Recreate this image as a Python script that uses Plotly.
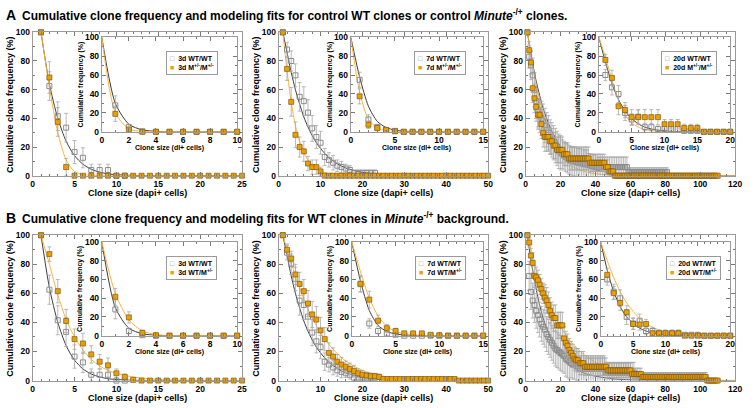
import plotly.graph_objects as go

W, H = 755, 408
FONT = "Liberation Sans, Arial, Helvetica, sans-serif"
WT_MARK = "#8c8c8c"
ERR = "#a8a8a8"
M_FILL = "#ee9f00"
M_EDGE = "#7d5a12"
FIT_WT = "#3d3d3d"
FIT_M = "#fbb43a"
FRAME = "#9a9a9a"
TICK = "#7a7a7a"

# ---------------- data ----------------
# A1: 3d, main (dapi+ cells)
A1_WT_X = [1, 2, 3, 4, 5, 6, 7, 8, 9, 10, 11]
A1_WT = [100, 62.5, 41.5, 33.5, 16.5, 12.5, 4, 4, 4, 0, 0]
A1_WT_ERR = [0, 10, 10, 10, 8, 7, 4, 4, 4, 0, 0]
A1_M_X = list(range(1, 26))
A1_M = [100, 68.5, 37.5, 6, 0, 0, 0, 0, 0, 0, 0, 0, 0, 0, 0, 0, 0, 0, 0, 0, 0, 0, 0, 0, 0]
A1_M_ERR = [0, 11, 10, 6, 0, 0, 0, 0, 0, 0, 0, 0, 0, 0, 0, 0, 0, 0, 0, 0, 0, 0, 0, 0, 0]
A1_FIT_X = [1, 2, 3, 4, 5, 6, 7, 8, 9, 10, 12, 15, 20, 25]
A1_FIT_WT = [100, 64, 40, 24, 14, 8, 4.5, 2.5, 1.3, 0.7, 0.2, 0, 0, 0]
A1_FIT_M = [100, 62, 30, 11, 3, 0.8, 0.2, 0, 0, 0, 0, 0, 0, 0]

# A1 inset (dl+ cells)
I1_X = [1, 2, 3, 4, 5, 6, 7, 8, 9, 10]
I1_WT = [28, 5, 0.5, 0, 0, 0, 0, 0, 0, 0]
I1_WT_ERR = [10, 3, 0.5, 0, 0, 0, 0, 0, 0, 0]
I1_M = [19, 2.5, 0, 0, 0, 0, 0, 0, 0, 0]
I1_M_ERR = [8, 2, 0, 0, 0, 0, 0, 0, 0, 0]
I1_FIT_X = [0, 1, 2, 3, 4, 5, 6, 7, 8, 9, 10]
I1_FIT_WT = [100, 30, 8, 2, 0.5, 0, 0, 0, 0, 0, 0]
I1_FIT_M = [100, 20, 3, 0.5, 0, 0, 0, 0, 0, 0, 0]

# A2: 7d, main
A2_WT_X = list(range(1, 24))
A2_WT = [100, 88, 80, 70, 55, 52, 44, 33, 27, 23, 13, 11, 9, 7, 6, 5, 4, 2, 2, 2, 2, 2, 2]
A2_WT_ERR = [0, 5, 7, 8, 10, 10, 9, 9, 8, 8, 6, 5, 5, 4, 4, 3, 3, 2, 2, 2, 2, 2, 2]
A2_M_X = list(range(1, 51))
A2_M = [100, 74.5, 51.5, 28.5, 20, 17, 8.5, 6, 6, 3,
        0, 0, 0, 0, 0, 0, 0, 0, 0, 0, 0, 0, 0, 0, 0, 0, 0, 0, 0, 0,
        0, 0, 0, 0, 0, 0, 0, 0, 0, 0, 0, 0, 0, 0, 0, 0, 0, 0, 0, 0]
A2_M_ERR = [0, 8, 10, 9, 7, 7, 5, 5, 5, 3,
            0, 0, 0, 0, 0, 0, 0, 0, 0, 0, 0, 0, 0, 0, 0, 0, 0, 0, 0, 0,
            0, 0, 0, 0, 0, 0, 0, 0, 0, 0, 0, 0, 0, 0, 0, 0, 0, 0, 0, 0]
A2_FIT_X = [1, 2, 3, 4, 5, 6, 7, 8, 9, 10, 12, 14, 16, 18, 20, 25, 30, 40, 50]
A2_FIT_WT = [100, 86, 72, 60, 50, 41, 34, 28, 23, 19, 12.5, 8.3, 5.4, 3.6, 2.4, 0.8, 0.3, 0, 0]
A2_FIT_M = [100, 73, 51, 35, 24, 16, 11, 7.3, 4.8, 3.2, 1.4, 0.6, 0.3, 0.1, 0, 0, 0, 0, 0]

# A2 inset
I2_X = list(range(1, 16))
I2_WT = [55, 13, 5, 2, 1, 0, 0, 0, 0, 0, 0, 0, 0, 0, 0]
I2_WT_ERR = [8, 5, 3, 2, 1, 0, 0, 0, 0, 0, 0, 0, 0, 0, 0]
I2_M = [37.5, 7.5, 4, 2, 0.5, 0, 0, 0, 0, 0, 0, 0, 0, 0, 0]
I2_M_ERR = [8, 4, 3, 2, 0.5, 0, 0, 0, 0, 0, 0, 0, 0, 0, 0]
I2_FIT_X = list(range(0, 16))
I2_FIT_WT = [100, 58, 27, 11, 4.5, 1.8, 0.7, 0.3, 0.1, 0, 0, 0, 0, 0, 0, 0]
I2_FIT_M = [100, 42, 13, 4, 1.2, 0.3, 0, 0, 0, 0, 0, 0, 0, 0, 0, 0]

# A3: 20d, main
A3_WT_X = list(range(1, 82))
A3_WT = [100, 83, 77, 70, 60, 52, 46, 42, 40, 38, 35, 32, 30, 27, 25, 23, 21, 19, 17, 16,
         15, 14, 13, 12, 11, 10.5, 10, 10, 9.5, 9, 9, 8.5, 8, 8, 8, 7.5, 7, 7, 6.5, 6.5,
         6, 6, 6, 6, 6, 6, 6, 6, 6, 6, 6, 6, 6, 6, 6, 6, 6, 6,
         2.5, 2.5, 2.5, 2.5, 2.5, 2.5, 2.5, 2.5, 2.5, 2.5, 2.5, 2.5,
         2.5, 2.5, 2.5, 2.5, 2.5, 2.5, 2.5, 2.5, 2.5, 2.5, 2.5]
A3_WT_ERR = [0, 8, 10, 12, 12, 12, 12, 12, 12, 12, 12, 12, 12, 12, 12, 12, 12, 12, 12, 12,
             10, 10, 10, 10, 10, 10, 10, 10, 10, 10, 10, 10, 10, 10, 10, 8, 8, 8, 8, 8,
             7, 7, 7, 7, 7, 7, 7, 7, 7, 7, 7, 7, 7, 7, 7, 7, 7, 7,
             3, 3, 3, 3, 3, 3, 3, 3, 3, 3, 3, 3,
             3, 3, 3, 3, 3, 3, 3, 3, 3, 3, 3]
A3_M_X = list(range(1, 111))
A3_M = [100, 87.5, 79, 61, 54, 48, 42.5, 42.5, 36, 30, 27, 27, 27, 24, 24, 21, 21, 18, 18, 18,
        18, 15, 15, 15, 12, 12, 12, 12, 12, 12, 12, 12, 12, 12, 12, 12,
        9, 9, 9, 9, 9, 9, 9, 9, 9, 6, 6, 3, 3, 3,
        0, 0, 0, 0, 0, 0, 0, 0, 0, 0, 0, 0, 0, 0, 0, 0, 0, 0, 0, 0,
        0, 0, 0, 0, 0, 0, 0, 0, 0, 0, 0, 0, 0, 0, 0, 0, 0, 0, 0, 0,
        0, 0, 0, 0, 0, 0, 0, 0, 0, 0, 0, 0, 0, 0, 0, 0, 0, 0, 0, 0]
A3_M_ERR = [0, 6, 8, 10, 10, 10, 10, 10, 10, 10, 10, 10, 10, 9, 9, 9, 9, 9, 9, 9,
            9, 8, 8, 8, 8, 8, 8, 8, 8, 8, 8, 8, 8, 8, 8, 8,
            6, 6, 6, 6, 6, 6, 6, 6, 6, 5, 5, 3, 3, 3,
            0, 0, 0, 0, 0, 0, 0, 0, 0, 0, 0, 0, 0, 0, 0, 0, 0, 0, 0, 0,
            0, 0, 0, 0, 0, 0, 0, 0, 0, 0, 0, 0, 0, 0, 0, 0, 0, 0, 0, 0,
            0, 0, 0, 0, 0, 0, 0, 0, 0, 0, 0, 0, 0, 0, 0, 0, 0, 0, 0, 0]
A3_FIT_X = [1, 2, 3, 4, 5, 6, 8, 10, 12, 15, 20, 25, 30, 35, 40, 50, 60, 70, 80, 100, 120]
A3_FIT_WT = [100, 92, 85, 78, 72, 66, 56, 47, 40, 31, 20.5, 13.5, 9, 6, 4, 1.8, 0.8, 0.4, 0.2, 0, 0]
A3_FIT_M = [100, 92, 84, 77, 70, 64, 53, 43, 35, 25, 14, 8, 4.5, 2.5, 1.4, 0.4, 0.1, 0, 0, 0, 0]

# A3 inset
I3_X = list(range(1, 21))
I3_WT = [60, 47, 40, 20, 13, 16, 5, 5, 3, 3, 3, 3, 1, 1, 1, 0, 0, 0, 0, 0]
I3_WT_ERR = [6, 8, 9, 8, 6, 7, 4, 4, 3, 3, 3, 3, 1, 1, 1, 0, 0, 0, 0, 0]
I3_M = [76, 57, 27, 23, 15.5, 15.5, 15.5, 15.5, 15.5, 8, 8, 8, 4, 4, 4, 0, 0, 0, 0, 0]
I3_M_ERR = [6, 8, 9, 8, 8, 8, 8, 8, 8, 5, 5, 5, 4, 4, 4, 0, 0, 0, 0, 0]
I3_FIT_X = list(range(0, 21))
I3_FIT_WT = [100, 74, 51, 34, 22, 14, 8.5, 5, 3, 1.8, 1, 0.5, 0.3, 0.15, 0.1, 0, 0, 0, 0, 0, 0]
I3_FIT_M = [100, 79, 55, 33, 18, 9.5, 5, 2.5, 1.2, 0.6, 0.3, 0.1, 0, 0, 0, 0, 0, 0, 0, 0, 0]

# B1: 3d, WT/M+/- (WT/WT shared with A1)
B1_M = [100, 87, 61.5, 41, 28.5, 25.5, 18, 13, 10.5, 5, 2.5, 0.5, 0,
        0, 0, 0, 0, 0, 0, 0, 0, 0, 0, 0, 0]
B1_M_ERR = [0, 5, 8, 8, 7, 7, 6, 5, 5, 3, 2, 0.5, 0,
            0, 0, 0, 0, 0, 0, 0, 0, 0, 0, 0, 0]
B1_FIT_M = [100, 80, 59, 42, 30, 21, 14.5, 10, 7, 5, 2.5, 0.8, 0.1, 0]
J1_M = [41.5, 19.5, 3, 0.5, 0, 0, 0, 0, 0, 0]
J1_M_ERR = [9, 6, 3, 0.5, 0, 0, 0, 0, 0, 0]
J1_FIT_M = [100, 45, 17, 5, 1.2, 0.2, 0, 0, 0, 0, 0]

# B2: 7d
B2_M = [100, 90, 84, 73, 66.5, 61.5, 53, 45.5, 42, 34.5, 28.5, 19, 16.5, 13, 11, 9.5, 8, 6.5, 5, 4,
        3.5, 3, 3, 2.5, 1, 1, 1, 1, 1, 1, 1, 1, 1, 1, 1, 1, 1, 1, 1, 1,
        1, 1, 0, 0, 0, 0, 0, 0, 0, 0]
B2_M_ERR = [0, 4, 5, 7, 8, 8, 9, 9, 9, 9, 8, 7, 6, 5, 5, 4, 4, 4, 3, 3,
            2, 2, 2, 2, 1.5, 1.5, 1.5, 1.5, 1.5, 1.5, 1.5, 1.5, 1.5, 1.5, 1.5, 1.5, 1.5, 1.5, 1.5, 1.5,
            1.5, 1.5, 0, 0, 0, 0, 0, 0, 0, 0]
B2_FIT_M = [100, 90, 81, 72, 64, 56, 49, 43, 38, 33, 25, 18.5, 13.5, 9.8, 7, 3, 1.3, 0.2, 0]
J2_M = [55.5, 38.5, 16, 8, 5, 2.5, 2.5, 2.5, 1, 0.5, 0, 0, 0, 0, 0]
J2_M_ERR = [9, 9, 6, 4, 3, 2, 2, 2, 1, 0.5, 0, 0, 0, 0, 0]
J2_FIT_M = [100, 68, 40, 21, 10, 4.5, 2, 0.8, 0.3, 0.1, 0, 0, 0, 0, 0, 0]

# B3: 20d
B3_WT_X = list(range(1, 104))
B3_WT = [100, 72, 61, 55, 52, 48, 45, 42, 39, 37, 35, 32, 30, 28, 26, 24, 22, 21, 20, 19,
         18, 17, 15, 14, 13, 12, 11, 11, 10, 10,
         8, 8, 8, 8, 8, 8, 8, 8, 8, 8, 8, 8, 8, 8, 8,
         5.5, 5.5, 5.5, 5.5, 5.5, 5.5, 5.5, 5.5, 5.5, 5.5, 5.5, 5.5, 5.5, 5.5, 5.5, 5.5, 5.5,
         2.5, 2.5, 2.5, 2.5, 2.5, 2.5, 2.5, 2.5, 2.5, 2.5, 2.5, 2.5, 2.5, 2.5, 2.5, 2.5, 2.5, 2.5, 2.5, 2.5,
         2.5, 2.5, 2.5, 2.5, 2.5, 2.5, 2.5, 2.5, 2.5, 2.5, 2.5, 2.5, 2.5, 2.5, 2.5, 2.5, 2.5, 2.5, 2.5, 2.5,
         2.5]
B3_WT_ERR = [0, 10, 12, 12, 12, 12, 12, 12, 12, 12, 12, 12, 12, 12, 12, 12, 12, 12, 12, 12,
             12, 12, 12, 12, 12, 10, 10, 10, 10, 10,
             9, 9, 9, 9, 9, 9, 9, 9, 9, 9, 9, 9, 9, 9, 9,
             7, 7, 7, 7, 7, 7, 7, 7, 7, 7, 7, 7, 7, 7, 7, 7, 7,
             3, 3, 3, 3, 3, 3, 3, 3, 3, 3, 3, 3, 3, 3, 3, 3, 3, 3, 3, 3,
             3, 3, 3, 3, 3, 3, 3, 3, 3, 3, 3, 3, 3, 3, 3, 3, 3, 3, 3, 3,
             3]
B3_M = [100, 95, 86, 81, 72, 71, 69, 66, 63, 60, 57, 55, 52, 48, 45, 43, 43, 38, 38, 38,
        38, 29, 26, 24, 21, 19, 17, 15, 14, 14, 12, 12, 12,
        9.5, 9.5, 9.5, 9.5, 9.5, 9.5, 9.5, 9.5, 9.5, 9.5, 9.5, 9.5, 9.5,
        7, 7, 7, 7, 7, 7, 7, 7, 7, 7, 7, 7, 7, 7,
        4.5, 4.5, 4.5, 4.5, 4.5, 4.5,
        2.5, 2.5, 2.5, 2.5, 2.5, 2.5, 2.5, 2.5, 2.5, 2.5, 2.5, 2.5, 2.5, 2.5, 2.5, 2.5, 2.5, 2.5, 2.5, 2.5,
        2.5, 2.5, 2.5, 2.5, 2.5, 2.5, 2.5, 2.5, 2.5, 2.5, 2.5, 2.5, 2.5, 2.5, 2.5, 2.5, 2.5,
        0, 0, 0, 0, 0, 0, 0]
B3_M_ERR = [0, 3, 5, 7, 7, 7, 7, 7, 7, 7, 9, 9, 9, 9, 9, 9, 9, 9, 9, 9,
            9, 8, 8, 8, 8, 8, 8, 8, 8, 8, 8, 8, 8,
            6, 6, 6, 6, 6, 6, 6, 6, 6, 6, 6, 6, 6,
            5, 5, 5, 5, 5, 5, 5, 5, 5, 5, 5, 5, 5, 5,
            4, 4, 4, 4, 4, 4,
            3, 3, 3, 3, 3, 3, 3, 3, 3, 3, 3, 3, 3, 3, 3, 3, 3, 3, 3, 3,
            3, 3, 3, 3, 3, 3, 3, 3, 3, 3, 3, 3, 3, 3, 3, 3, 3,
            0, 0, 0, 0, 0, 0, 0]
B3_FIT_WT = [100, 91, 83, 76, 69, 63, 52, 43, 36, 27, 17, 11, 7, 4.5, 3, 1.2, 0.5, 0.2, 0.1, 0, 0]
B3_FIT_M = [100, 95, 90, 85, 80, 76, 69, 62, 56, 48, 37, 28, 21.5, 16.5, 12.5, 7, 4, 2.3, 1.3, 0.4, 0.1]
J3_M = [65, 45.5, 35, 25, 12.5, 12, 12.5, 2.5, 2.5, 2.5, 2.5, 2.5, 0, 0, 0, 0, 0, 0, 0, 0]
J3_M_ERR = [7, 7, 8, 7, 6, 6, 5, 3, 2, 2, 2, 2, 0, 0, 0, 0, 0, 0, 0, 0]
J3_FIT_WT = [100, 70, 47, 31, 20, 13, 8, 5, 3, 1.8, 1, 0.6, 0.3, 0.2, 0.1, 0, 0, 0, 0, 0, 0]
J3_FIT_M = [100, 80, 62, 47, 35, 26, 18.5, 13, 9, 6.2, 4.2, 2.8, 1.8, 1.2, 0.8, 0.5, 0.3, 0.2, 0.1, 0, 0]

TITLE_A = ("Cumulative clone frequency and modeling fits for control WT clones or control "
           "<i>Minute</i><sup>-/+</sup> clones.")
TITLE_B = "Cumulative clone frequency and modeling fits for WT clones in <i>Minute</i><sup>-/+</sup> background."

SUP = "<sup>+/-</sup>"
LEGENDS = [
    ("3d WT/WT", "3d M" + SUP + "/M" + SUP),
    ("7d WT/WT", "7d M" + SUP + "/M" + SUP),
    ("20d WT/WT", "20d M" + SUP + "/M" + SUP),
    ("3d WT/WT", "3d WT/M" + SUP),
    ("7d WT/WT", "7d WT/M" + SUP),
    ("20d WT/WT", "20d WT/M" + SUP),
]

# panel geometry in pixels: (left, right, top, bottom)
MAIN_BOX = [(31, 243, 28, 175), (280, 492, 28, 175), (530, 742, 28, 175),
            (31, 243, 236, 385), (280, 492, 236, 385), (530, 742, 236, 385)]
INSET_BOX = [(101, 238, 33, 130), (353, 487, 33, 130), (604, 737, 33, 130),
             (101, 238, 243, 339), (354, 487, 243, 339), (606, 737, 243, 339)]
LEGEND_POS = [(166, 47), (417, 47), (667, 47), (166, 257), (418, 257), (672, 257)]

MAIN_XMAX = [25, 50, 120, 25, 50, 120]
MAIN_DTICK = [5, 10, 20, 5, 10, 20]
MAIN_MINOR = [1, 2, 5, 1, 2, 5]
INSET_XMAX = [10, 15, 20, 10, 15, 20]
INSET_DTICK = [2, 5, 5, 2, 5, 5]
INSET_MINOR = [1, 1, 1, 1, 1, 1]

main_series = [
    (A1_FIT_X, A1_FIT_WT, A1_FIT_M, A1_WT_X, A1_WT, A1_WT_ERR, A1_M_X, A1_M, A1_M_ERR),
    (A2_FIT_X, A2_FIT_WT, A2_FIT_M, A2_WT_X, A2_WT, A2_WT_ERR, A2_M_X, A2_M, A2_M_ERR),
    (A3_FIT_X, A3_FIT_WT, A3_FIT_M, A3_WT_X, A3_WT, A3_WT_ERR, A3_M_X, A3_M, A3_M_ERR),
    (A1_FIT_X, A1_FIT_WT, B1_FIT_M, A1_WT_X, A1_WT, A1_WT_ERR, A1_M_X, B1_M, B1_M_ERR),
    (A2_FIT_X, A2_FIT_WT, B2_FIT_M, A2_WT_X, A2_WT, A2_WT_ERR, A2_M_X, B2_M, B2_M_ERR),
    (A3_FIT_X, B3_FIT_WT, B3_FIT_M, B3_WT_X, B3_WT, B3_WT_ERR, A3_M_X, B3_M, B3_M_ERR),
]
inset_series = [
    (I1_FIT_X, I1_FIT_WT, I1_FIT_M, I1_X, I1_WT, I1_WT_ERR, I1_X, I1_M, I1_M_ERR),
    (I2_FIT_X, I2_FIT_WT, I2_FIT_M, I2_X, I2_WT, I2_WT_ERR, I2_X, I2_M, I2_M_ERR),
    (I3_FIT_X, I3_FIT_WT, I3_FIT_M, I3_X, I3_WT, I3_WT_ERR, I3_X, I3_M, I3_M_ERR),
    (I1_FIT_X, I1_FIT_WT, J1_FIT_M, I1_X, I1_WT, I1_WT_ERR, I1_X, J1_M, J1_M_ERR),
    (I2_FIT_X, I2_FIT_WT, J2_FIT_M, I2_X, I2_WT, I2_WT_ERR, I2_X, J2_M, J2_M_ERR),
    (I3_FIT_X, J3_FIT_WT, J3_FIT_M, I3_X, I3_WT, I3_WT_ERR, I3_X, J3_M, J3_M_ERR),
]


def bold(size):
    return dict(family=FONT, size=size, color="black", weight="bold")


def axis(left, right, xmax, dtick, minor, anchor, horiz, fsize):
    d = dict(range=[0, xmax], dtick=dtick, tick0=0, anchor=anchor,
             ticks="inside", ticklen=4, tickwidth=1, tickcolor=TICK,
             showline=True, linecolor=FRAME, linewidth=1, mirror="allticks",
             showgrid=False, zeroline=False, tickfont=bold(fsize), ticklabelstandoff=0,
             minor=dict(dtick=minor, ticks="inside", ticklen=2, tickcolor=TICK, showgrid=False))
    d["domain"] = [left / W, right / W] if horiz else [1 - right / H, 1 - left / H]
    return d


def add_panel(fig, n, box, xmax, dtick, minor, series, fsize):
    fx, fwt, fm, wx, wy, we, mx, my, me = series
    xa = "x" if n == 1 else f"x{n}"
    ya = "y" if n == 1 else f"y{n}"
    left, right, top, bottom = box
    fig.layout["xaxis" if n == 1 else f"xaxis{n}"] = axis(left, right, xmax, dtick, minor, ya, True, fsize)
    fig.layout["yaxis" if n == 1 else f"yaxis{n}"] = axis(top, bottom, 100, 20, 10, xa, False, fsize)
    for y, c in ((fwt, FIT_WT), (fm, FIT_M)):
        fig.add_trace(go.Scatter(x=fx, y=y, mode="lines", xaxis=xa, yaxis=ya,
                                 line=dict(color=c, width=1, shape="spline", smoothing=0.7),
                                 showlegend=False, hoverinfo="skip"))
    fig.add_trace(go.Scatter(x=wx, y=wy, mode="markers", xaxis=xa, yaxis=ya, cliponaxis=False,
                             marker=dict(symbol="square-open", size=5, color=WT_MARK,
                                         line=dict(width=1, color=WT_MARK)),
                             error_y=dict(type="data", array=we, color=ERR, thickness=0.8, width=2),
                             showlegend=False))
    fig.add_trace(go.Scatter(x=mx, y=my, mode="markers", xaxis=xa, yaxis=ya, cliponaxis=False,
                             marker=dict(symbol="square", size=5, color=M_FILL,
                                         line=dict(width=0.7, color=M_EDGE)),
                             error_y=dict(type="data", array=me, color=ERR, thickness=0.8, width=2),
                             showlegend=False))


fig = go.Figure()
for i in range(6):
    add_panel(fig, i + 1, MAIN_BOX[i], MAIN_XMAX[i], MAIN_DTICK[i], MAIN_MINOR[i], main_series[i], 8.5)
for i in range(6):
    add_panel(fig, i + 7, INSET_BOX[i], INSET_XMAX[i], INSET_DTICK[i], INSET_MINOR[i], inset_series[i], 8.5)

ann = []
for letter, text, yc in (("A", TITLE_A, 10), ("B", TITLE_B, 218)):
    ann.append(dict(x=2 / W, y=1 - yc / H, xref="paper", yref="paper", xanchor="left",
                    yanchor="middle", text=f"<b>{letter}</b>", showarrow=False, font=bold(14)))
    ann.append(dict(x=18 / W, y=1 - yc / H, xref="paper", yref="paper", xanchor="left",
                    yanchor="middle", text=f"<b>{text}</b>", showarrow=False, font=bold(12)))

for i in range(6):
    left, right, top, bottom = MAIN_BOX[i]
    ann.append(dict(x=(left - 23) / W, y=1 - (top + bottom) / 2 / H, xref="paper", yref="paper",
                    text="<b>Cumulative clone frequency (%)</b>", textangle=-90, showarrow=False,
                    xanchor="center", yanchor="middle", font=bold(9)))
    ann.append(dict(x=(left + right) / 2 / W, y=1 - (bottom + 18) / H, xref="paper", yref="paper",
                    text="<b>Clone size (dapi+ cells)</b>", showarrow=False,
                    xanchor="center", yanchor="middle", font=bold(9)))
    left, right, top, bottom = INSET_BOX[i]
    ann.append(dict(x=(left - 22) / W, y=1 - (top + bottom) / 2 / H, xref="paper", yref="paper",
                    text="<b>Cumulative frequency (%)</b>", textangle=-90, showarrow=False,
                    xanchor="center", yanchor="middle", font=bold(7)))
    ann.append(dict(x=(left + right) / 2 / W, y=1 - (bottom + 17) / H, xref="paper", yref="paper",
                    text="<b>Clone size (dl+ cells)</b>", showarrow=False,
                    xanchor="center", yanchor="middle", font=bold(7)))
    lx, ly = LEGEND_POS[i]
    wt_lab, m_lab = LEGENDS[i]
    ann.append(dict(x=lx / W, y=1 - ly / H, xref="paper", yref="paper", xanchor="left", yanchor="top",
                    align="left", showarrow=False, bgcolor="white", bordercolor=FRAME,
                    borderwidth=1, borderpad=3, font=bold(7),
                    text=(f'<span style="color:{WT_MARK}">□</span>  <b>{wt_lab}</b><br>'
                          f'<span style="color:{M_FILL}">■</span>  <b>{m_lab}</b>')))

fig.update_layout(width=W, height=H, margin=dict(l=0, r=0, t=0, b=0),
                  paper_bgcolor="white", plot_bgcolor="white", showlegend=False,
                  annotations=ann, font=dict(family=FONT))
# drop the default page margin so the figure sits at the window's top-left corner
fig.write_html("out.html", config={"displayModeBar": False},
               post_script="document.body.style.margin = '0px';")
